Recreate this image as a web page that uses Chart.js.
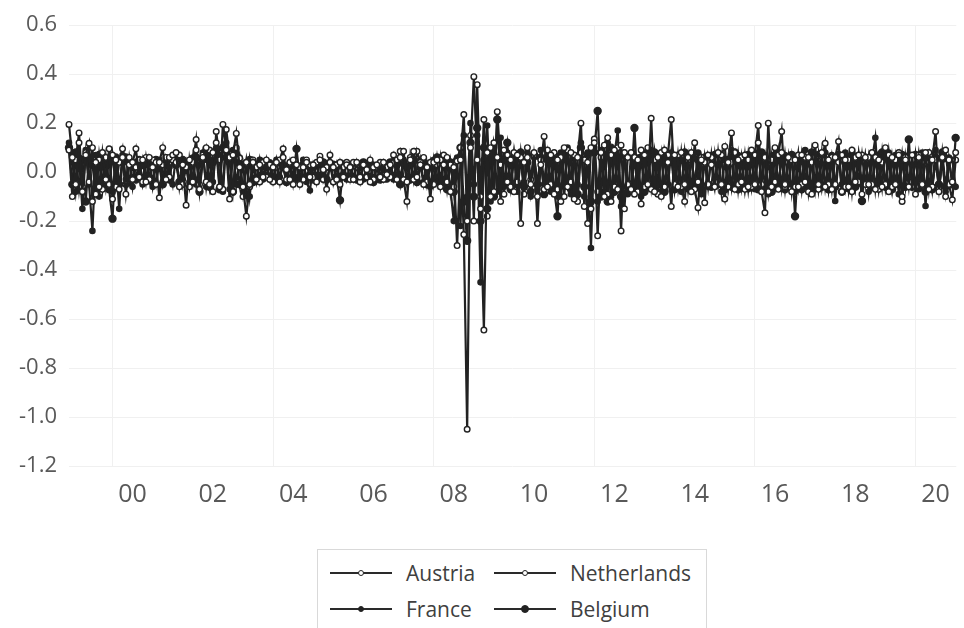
<!DOCTYPE html>
<html>
<head>
<meta charset="utf-8">
<script src="https://cdn.jsdelivr.net/npm/chart.js@4.4.1/dist/chart.umd.min.js"></script>
<style>
html,body{margin:0;padding:0;background:#fff;overflow:hidden;width:964px;height:628px}
#wrap{position:absolute;left:0;top:0;width:964px;height:530px}
#legend{position:absolute;left:317px;top:549px;width:390px;height:95px;border:1px solid #d9d9d9;box-sizing:border-box;font-family:'Open Sans',sans-serif;font-size:21px;color:#404040}
.item{position:absolute;height:30px}
.ln{position:absolute;left:0;top:14px;width:62px;height:2px;background:#2a2a2a}
.mk{position:absolute;border-radius:50%;box-sizing:border-box}
.tx{position:absolute;top:0;line-height:30px;white-space:nowrap}
</style>
</head>
<body>
<div id="wrap"><canvas id="c" width="964" height="530"></canvas></div>
<div id="legend"></div>
<script>
// ---- categories: monthly observations, June 1998 .. July 2020 ----
const startYear = 1998, startMonth = 6, nMonths = 266;
const months = [];
for (let k = 0; k < nMonths; k++) {
  const m = startMonth - 1 + k;
  months.push((startYear + Math.floor(m / 12)) + '-' + String(m % 12 + 1).padStart(2, '0'));
}
// ---- x tick labels (January of even years) ----
const tickLabels = ['00','02','04','06','08','10','12','14','16','18','20'];
const tickMonths = ['2000-01','2002-01','2004-01','2006-01','2008-01','2010-01','2012-01','2014-01','2016-01','2018-01','2020-01'];
const gridMonths = ['1999-07','2003-07','2007-07','2011-07','2015-07','2019-07'];
// ---- y axis ----
const yMin = -1.2, yMax = 0.6, yStep = 0.2;

// ---- series (rows = June..May) ----
const austria = [
 0.195,0.06,-0.05,0.12,-0.08,0.07,0.118,-0.12,0.04,-0.06,0.08,-0.03,
 0.095,-0.11,0.05,-0.07,0.06,-0.09,0.03,0.04,0.095,-0.02,0.05,-0.04,
 0.06,0.02,-0.05,0.04,0.1,-0.03,0.06,0.07,0.08,-0.06,0.03,-0.135,
 0.05,-0.04,0.09,-0.07,0.06,0.1,-0.05,0.08,0.12,-0.06,0.195,0.09,
 -0.11,0.07,0.158,0.02,-0.06,-0.18,-0.05,0.04,-0.03,0.03,-0.02,0.05,
 -0.03,0.02,0.04,-0.04,0.06,0.01,-0.03,0.05,0.03,-0.05,0.02,0.04,
 -0.02,0.03,-0.04,0.05,0.01,-0.07,0.04,0.02,-0.03,0.04,-0.02,0.03,
 0.02,-0.03,0.04,-0.02,0.03,0.01,-0.04,0.02,0.03,-0.02,0.04,-0.01,
 0.03,0.07,-0.03,0.06,0.085,-0.04,0.05,0.085,-0.02,0.03,-0.05,0.02,
 -0.11,0.04,0.05,-0.06,0.03,0.06,-0.08,0.02,-0.3,0.05,0.235,-0.2,
 0.1,0.39,0.05,-0.15,-0.645,0.08,-0.1,0.12,0.06,-0.12,0.09,-0.04,
 0.05,-0.08,0.07,-0.21,0.04,0.06,-0.05,0.08,-0.1,0.03,0.146,-0.06,
 0.07,-0.09,0.05,-0.12,0.1,-0.06,0.08,-0.11,0.06,0.2,-0.14,0.04,
 -0.15,0.12,-0.26,0.08,-0.1,0.14,-0.12,0.09,-0.07,0.11,-0.15,0.06,
 0.08,-0.09,0.05,-0.13,0.07,-0.05,0.22,-0.08,0.06,-0.1,0.09,0.04,
 -0.14,0.07,-0.06,0.08,-0.05,0.06,-0.08,0.12,-0.04,0.05,-0.125,0.07,
 0.03,-0.06,0.08,-0.05,-0.11,0.04,0.16,-0.07,0.05,-0.04,0.07,-0.06,
 0.09,-0.05,0.12,-0.08,-0.166,0.2,-0.06,0.1,-0.07,0.08,-0.05,0.06,
 -0.08,0.05,-0.06,0.07,-0.04,0.06,-0.09,0.11,-0.05,0.08,-0.06,0.05,
 -0.07,0.06,0.125,-0.08,0.05,-0.06,0.09,-0.04,0.07,-0.09,0.06,-0.05,
 0.08,-0.07,0.05,-0.06,0.1,-0.08,0.06,-0.05,0.07,-0.1,0.05,-0.06,
 0.07,-0.09,0.06,-0.05,0.08,-0.07,0.05,0.166,-0.08,0.06,-0.1,0.05,
 -0.04,0.08
];
const netherlands = [
 0.09,-0.1,0.05,0.16,-0.06,0.08,-0.04,0.1,-0.09,0.05,-0.07,0.06,
 -0.05,0.07,-0.06,0.04,0.095,-0.05,0.06,-0.03,0.02,0.05,-0.04,0.06,
 -0.03,0.05,0.04,-0.105,0.03,0.06,-0.02,0.05,0.04,0.07,-0.05,0.02,
 -0.06,0.04,0.133,-0.05,0.07,-0.04,0.09,-0.08,0.166,0.05,-0.07,0.174,
 0.06,-0.08,0.1,0.057,-0.1,0.04,-0.06,0.05,0.02,-0.04,0.04,-0.02,
 0.03,-0.04,0.02,0.05,0.095,-0.03,0.04,-0.05,0.03,0.02,-0.03,0.05,
 0.03,-0.02,0.04,0.065,-0.03,0.02,0.07,-0.04,0.03,-0.05,0.02,0.04,
 -0.03,0.04,0.02,-0.04,0.03,-0.02,0.05,-0.03,0.02,0.04,-0.03,0.02,
 -0.02,0.04,0.05,0.085,-0.03,-0.12,0.06,-0.03,0.085,0.04,0.06,-0.04,
 0.04,-0.05,0.03,0.05,0.07,-0.04,0.03,-0.06,0.045,0.1,-0.255,-1.05,
 0.15,-0.2,0.357,-0.1,0.215,-0.18,0.1,-0.08,0.247,0.03,-0.09,0.07,
 -0.06,0.08,-0.04,0.06,-0.09,0.1,-0.03,0.07,-0.21,0.05,-0.07,0.09,
 -0.05,0.08,-0.07,0.06,-0.1,0.09,-0.04,0.07,-0.12,0.08,0.05,-0.21,
 0.1,0.135,-0.08,0.06,0.11,-0.09,0.07,-0.06,0.1,-0.24,0.08,-0.05,
 -0.07,0.06,-0.08,0.09,-0.06,0.1,-0.07,0.05,-0.09,0.08,-0.06,0.07,
 0.215,-0.05,0.07,-0.06,-0.12,0.05,0.08,-0.07,-0.145,0.06,0.04,-0.05,
 0.06,-0.04,0.05,0.07,0.105,-0.06,0.04,0.08,-0.05,0.06,-0.07,0.05,
 -0.06,0.07,0.19,-0.05,0.06,-0.08,0.05,-0.04,0.07,0.166,-0.06,0.04,
 0.05,-0.06,0.07,-0.05,0.06,-0.08,0.04,0.06,-0.07,0.05,0.118,-0.05,
 0.06,-0.05,0.04,0.07,-0.06,0.05,-0.08,0.06,-0.04,0.07,-0.05,0.06,
 -0.05,0.06,-0.07,0.04,-0.05,0.07,-0.06,0.05,0.08,-0.12,0.06,-0.04,
 0.05,-0.06,0.07,-0.05,0.04,0.08,-0.06,0.05,-0.07,0.06,0.09,-0.05,
 -0.113,0.05
];
const france = [
 0.12,0.04,-0.08,0.06,-0.15,0.09,-0.05,-0.24,0.07,-0.1,0.05,-0.06,
 0.06,-0.08,0.04,-0.15,0.07,-0.03,0.05,-0.06,0.04,0.02,-0.05,0.03,
 0.04,-0.06,0.03,0.05,-0.04,0.06,0.02,-0.05,0.07,0.05,-0.03,0.04,
 -0.04,0.06,-0.05,0.03,0.08,-0.06,0.05,-0.04,0.1,0.07,-0.08,0.12,
 -0.07,0.09,-0.05,0.06,-0.08,0.04,-0.1,0.03,-0.04,0.05,-0.03,0.02,
 0.04,-0.03,0.05,-0.02,0.03,-0.04,0.02,0.04,-0.03,0.02,0.05,-0.04,
 -0.075,0.03,-0.02,0.04,-0.03,0.02,0.03,-0.04,0.02,-0.02,0.03,-0.03,
 0.03,-0.02,0.02,0.03,-0.03,0.02,-0.02,0.03,-0.03,0.02,0.01,-0.03,
 0.02,-0.03,0.04,-0.02,0.05,-0.04,0.03,0.04,-0.03,0.05,-0.04,0.03,
 -0.06,0.05,-0.04,0.06,-0.05,0.04,-0.07,-0.2,0.06,-0.22,0.15,-0.1,
 0.2,-0.05,0.15,-0.45,0.05,0.19,-0.12,0.1,-0.08,0.14,-0.06,0.08,
 -0.05,0.07,-0.08,0.05,-0.04,0.08,-0.1,0.06,-0.07,0.09,-0.05,0.07,
 -0.08,0.06,-0.1,0.08,-0.06,0.1,-0.09,0.07,-0.05,0.12,-0.1,0.08,
 -0.31,0.1,-0.12,0.09,-0.08,0.12,-0.1,0.07,0.17,-0.14,0.08,-0.09,
 0.07,-0.08,0.06,-0.1,0.08,-0.06,0.09,-0.07,0.05,-0.08,0.06,-0.05,
 0.08,-0.06,0.07,-0.08,0.05,-0.07,0.06,-0.05,0.08,-0.09,0.05,-0.06,
 0.07,-0.05,0.06,-0.08,0.05,-0.06,0.09,-0.05,0.07,-0.06,0.05,-0.07,
 0.06,-0.07,0.08,-0.05,0.07,-0.09,0.06,-0.05,0.08,-0.06,0.07,-0.05,
 0.06,-0.08,0.07,-0.05,0.09,-0.06,0.05,-0.07,0.06,-0.05,0.08,-0.06,
 0.07,-0.118,0.06,-0.05,0.08,-0.07,0.05,-0.06,0.07,-0.05,0.06,-0.08,
 0.05,0.14,-0.07,0.06,-0.05,0.08,-0.06,0.07,-0.09,0.05,-0.06,0.07,
 -0.05,0.06,-0.07,0.08,-0.138,0.05,-0.06,0.09,-0.07,0.05,-0.08,0.06,
 0.05,-0.06
];
const belgium = [
 0.1,-0.05,0.08,-0.07,0.05,-0.12,0.06,0.03,-0.08,0.07,-0.04,0.05,
 -0.07,-0.19,0.06,-0.05,0.04,0.06,-0.04,0.03,-0.03,0.05,0.03,-0.02,
 0.03,-0.04,0.05,0.02,-0.05,0.04,-0.03,0.06,0.03,-0.04,0.05,0.02,
 0.04,-0.03,0.06,-0.08,0.05,0.07,-0.06,0.04,0.09,-0.07,0.1,0.06,
 0.04,-0.08,0.07,-0.05,0.03,-0.09,0.05,-0.04,0.03,-0.02,0.04,0.02,
 -0.02,0.03,-0.03,0.04,0.02,-0.04,0.03,-0.02,0.095,-0.03,0.03,-0.02,
 0.02,-0.03,0.03,-0.02,0.04,-0.03,0.02,0.03,-0.02,-0.115,0.03,-0.02,
 -0.02,0.03,-0.03,0.02,0.04,-0.02,0.03,-0.04,0.02,-0.03,0.03,0.02,
 0.04,-0.02,0.03,-0.05,0.04,0.02,-0.03,0.05,-0.04,0.02,0.04,-0.05,
 0.03,-0.04,0.06,-0.03,0.05,-0.07,0.04,-0.08,0.05,0.1,-0.12,-0.28,
 0.12,-0.1,0.18,-0.2,0.1,-0.15,0.08,-0.1,0.215,-0.06,0.05,0.12,
 -0.07,0.06,-0.05,0.08,-0.06,0.04,-0.08,0.07,-0.05,0.06,-0.09,0.05,
 0.06,-0.07,-0.18,0.07,-0.05,0.08,-0.07,0.06,-0.09,0.1,-0.06,0.07,
 -0.12,0.08,0.25,-0.1,0.07,-0.12,0.1,-0.08,0.06,-0.1,0.07,-0.06,
 -0.05,0.18,-0.07,0.06,-0.08,0.07,-0.06,0.08,-0.05,0.07,-0.08,0.05,
 0.06,-0.07,0.05,-0.06,0.08,-0.05,0.07,-0.06,0.05,-0.07,0.06,-0.05,
 -0.06,0.07,-0.05,0.06,-0.07,0.05,-0.06,0.08,-0.07,0.05,-0.06,0.07,
 -0.05,0.06,-0.07,0.08,-0.06,0.05,-0.08,0.07,-0.05,0.06,-0.07,0.05,
 0.07,-0.18,0.06,-0.07,0.05,-0.06,0.08,-0.05,0.07,-0.06,0.05,-0.07,
 0.05,-0.06,0.07,-0.08,0.06,-0.05,0.07,-0.06,0.05,-0.118,0.06,-0.05,
 -0.06,0.07,-0.05,0.08,-0.06,0.05,-0.07,0.06,-0.05,0.07,-0.06,0.133,
 -0.06,0.07,-0.05,0.06,-0.08,0.05,-0.07,0.06,-0.05,0.08,-0.06,0.05,
 -0.05,0.14
];
const seriesNames = ['Austria','Netherlands','France','Belgium'];

// ---- styles ----
const LINE = '#222222';
const styles = [
  {r: 2.8, fill: '#ffffff'},
  {r: 2.8, fill: '#ffffff'},
  {r: 2.6, fill: LINE},
  {r: 3.5, fill: LINE}
];
const seriesValues = [austria, netherlands, france, belgium];

const tickPos = tickMonths.map(m => months.indexOf(m));
const gridPos = gridMonths.map(m => months.indexOf(m));
const allTicks = tickPos.concat(gridPos).sort((a, b) => a - b);

const datasets = seriesNames.map((name, k) => ({
  label: name,
  data: seriesValues[k].map((v, i) => ({x: i, y: v})),
  borderColor: LINE,
  borderWidth: 2.2,
  pointRadius: styles[k].r,
  pointBackgroundColor: styles[k].fill,
  pointBorderColor: LINE,
  pointBorderWidth: 1.4,
  tension: 0,
  clip: false
}));

const chart = new Chart(document.getElementById('c'), {
  type: 'line',
  data: {datasets},
  options: {
    responsive: false,
    animation: false,
    events: [],
    layout: {padding: {top: 22, left: 0, right: 0, bottom: 0}},
    plugins: {legend: {display: false}, tooltip: {enabled: false}},
    scales: {
      x: {
        type: 'linear',
        min: 0,
        max: (964 - 69) / 3.375,
        afterBuildTicks: s => { s.ticks = allTicks.map(v => ({value: v})); },
        afterFit: s => { s.height = 64; },
        ticks: {
          autoSkip: false, maxRotation: 0, minRotation: 0, padding: 14,
          color: '#595959',
          font: {family: 'Open Sans', size: 25},
          callback: v => { const j = tickPos.indexOf(v); return j >= 0 ? tickLabels[j] : ''; }
        },
        grid: {
          drawTicks: false,
          lineWidth: 1,
          color: c => (c.tick && gridPos.indexOf(c.tick.value) >= 0) ? '#f0f0f0' : 'rgba(0,0,0,0)'
        },
        border: {display: false}
      },
      y: {
        min: yMin, max: yMax,
        afterFit: s => { s.width = 69; },
        ticks: {
          stepSize: yStep, padding: 12,
          color: '#595959',
          font: {family: 'Open Sans', size: 22},
          callback: v => (Math.abs(v) < 1e-9 ? 0 : v).toFixed(1)
        },
        grid: {drawTicks: false, color: '#f0f0f0', lineWidth: 1},
        border: {display: false}
      }
    }
  }
});

// ---- legend (two columns x two rows, built from the datasets) ----
const legendSlots = [[12, 8], [176, 8], [12, 44], [176, 44]];
const legend = document.getElementById('legend');
chart.data.datasets.forEach((ds, k) => {
  const it = document.createElement('div');
  it.className = 'item';
  it.style.left = legendSlots[k][0] + 'px';
  it.style.top = legendSlots[k][1] + 'px';
  const ln = document.createElement('div'); ln.className = 'ln'; it.appendChild(ln);
  const mk = document.createElement('div'); mk.className = 'mk';
  const d = ds.pointRadius * 2 + 1;
  mk.style.width = d + 'px'; mk.style.height = d + 'px';
  mk.style.left = (31 - d / 2) + 'px'; mk.style.top = (15 - d / 2) + 'px';
  mk.style.background = ds.pointBackgroundColor;
  mk.style.border = '1.2px solid ' + LINE;
  it.appendChild(mk);
  const tx = document.createElement('div'); tx.className = 'tx';
  tx.style.left = '76px'; tx.textContent = ds.label;
  it.appendChild(tx);
  legend.appendChild(it);
});
</script>
</body>
</html>
